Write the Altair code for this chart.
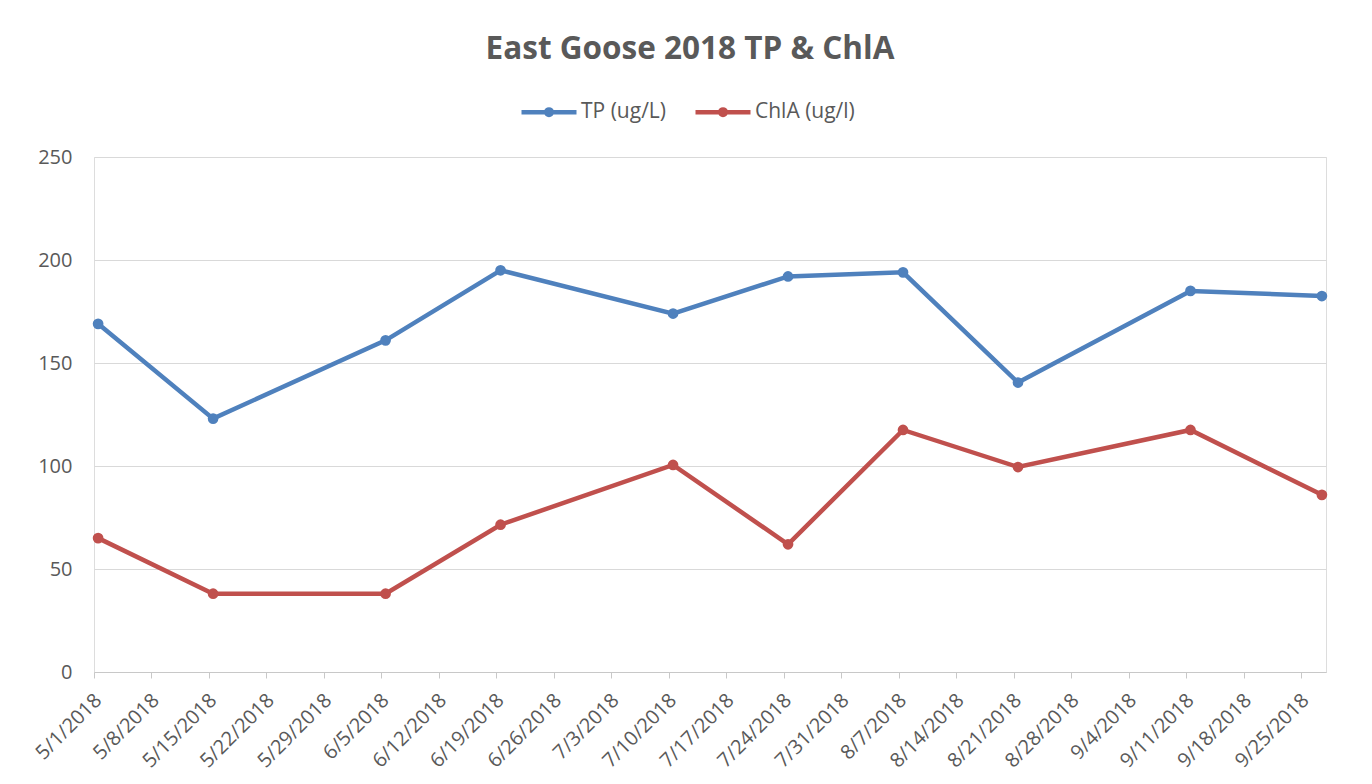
import altair as alt
import pandas as pd

# ---- data ----
dates = ["2018-05-01", "2018-05-15", "2018-06-05", "2018-06-19", "2018-07-10",
         "2018-07-24", "2018-08-07", "2018-08-21", "2018-09-11", "2018-09-27"]
tp_values = [169, 123, 161, 195, 174, 192, 194, 140.5, 185, 182.5]
chla_values = [65, 38, 38, 71.5, 100.5, 62, 117.5, 99.5, 117.5, 86]
series_names = ["TP (ug/L)", "ChlA (ug/l)"]
series_colors = ["#4F81BD", "#C0504D"]
tick_dates = ["2018-05-01", "2018-05-08", "2018-05-15", "2018-05-22", "2018-05-29",
              "2018-06-05", "2018-06-12", "2018-06-19", "2018-06-26", "2018-07-03",
              "2018-07-10", "2018-07-17", "2018-07-24", "2018-07-31", "2018-08-07",
              "2018-08-14", "2018-08-21", "2018-08-28", "2018-09-04", "2018-09-11",
              "2018-09-18", "2018-09-25"]
x_domain = ["2018-05-01", "2018-09-28"]
y_ticks = [0, 50, 100, 150, 200, 250]

rows = []
for name, vals in zip(series_names, [tp_values, chla_values]):
    for d, v in zip(dates, vals):
        rows.append({"date": d, "series": name, "value": v})
df = pd.DataFrame(rows)


def dt(s):
    y, m, d = map(int, s.split("-"))
    return alt.DateTime(year=y, month=m, date=d, utc=True)


FONT = "Open Sans"
TXT = "#595959"
GRID = "#d9d9d9"

legend_path = ("M-1,0L1,0"
               "M-0.1,0A0.1,0.1 0 1,1 0.1,0A0.1,0.1 0 1,1 -0.1,0Z"
               "M-0.04,0A0.04,0.04 0 1,1 0.04,0A0.04,0.04 0 1,1 -0.04,0Z")

chart = alt.Chart(df).transform_calculate(
    t="time(toDate(datum.date)) + 43200000"
).mark_line(
    strokeWidth=4.5,
    point=alt.OverlayMarkDef(size=115, filled=True, opacity=1),
).encode(
    x=alt.X(
        "t:T",
        title=None,
        scale=alt.Scale(type="utc", domain=[dt(x_domain[0]), dt(x_domain[1])]),
        axis=alt.Axis(
            values=[dt(d) for d in tick_dates],
            labelExpr="utcFormat(datum.value, '%-m/%-d/%Y')",
            labelAngle=-45,
            labelAlign="right",
            labelBaseline="middle",
            labelPadding=19,
            labelOffset=4,
            labelFont=FONT,
            labelFontSize=20,
            labelColor=TXT,
            labelOverlap=False,
            labelFlush=False,
            grid=False,
            domainColor="#c8c8c8",
            domainWidth=1,
            tickColor="#c8c8c8",
            tickSize=6,
        ),
    ),
    y=alt.Y(
        "value:Q",
        title=None,
        scale=alt.Scale(domain=[0, 250], nice=False),
        axis=alt.Axis(
            values=y_ticks,
            labelFont=FONT,
            labelFontSize=20,
            labelColor=TXT,
            labelPadding=22,
            domain=False,
            ticks=False,
            gridColor=GRID,
            gridWidth=1,
        ),
    ),
    color=alt.Color(
        "series:N",
        scale=alt.Scale(domain=series_names, range=series_colors),
        sort=series_names,
        legend=alt.Legend(
            title=None,
            orient="none",
            legendX=425,
            legendY=-75,
            direction="horizontal",
            symbolType=legend_path,
            symbolSize=3025,
            symbolStrokeWidth=4.5,
            labelFont=FONT,
            labelFontSize=21,
            labelColor=TXT,
            labelOffset=2,
            columnPadding=20,
        ),
    ),
    detail="series:N",
).properties(
    width=1232,
    height=515,
    title=alt.Title(
        "East Goose 2018 TP & ChlA",
        font=FONT,
        fontSize=31.5,
        fontWeight="bold",
        color=TXT,
        anchor="middle",
        offset=17,
        dx=-20,
    ),
    autosize=alt.AutoSizeParams(type="none"),
    padding={"left": 86, "top": 149, "right": 30, "bottom": 104},
).configure_view(stroke=None).configure(background="white")

chart.save("out.html", embed_options={"renderer": "svg", "actions": False})
